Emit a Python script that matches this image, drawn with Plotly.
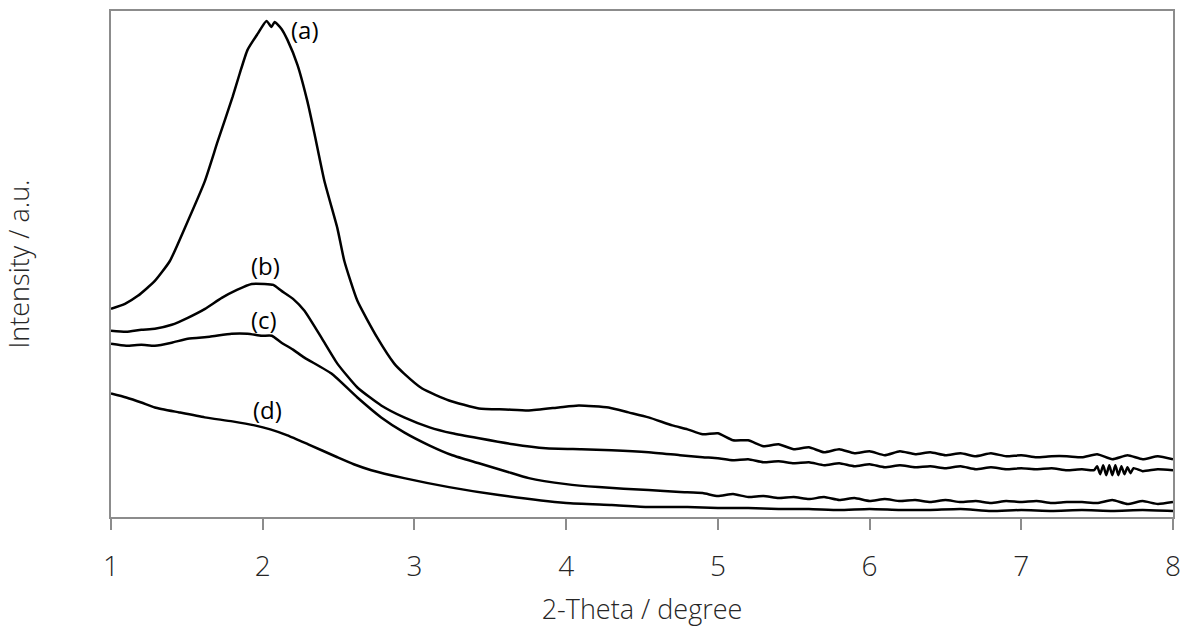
import plotly.graph_objects as go

# ---- data (2-Theta in degree, intensity in a.u.) ----
x_a = [1.000, 1.092, 1.177, 1.289, 1.388, 1.486, 1.618, 1.703, 1.802, 1.848, 1.900, 1.966,
       2.025, 2.058, 2.078, 2.124, 2.163, 2.229, 2.295, 2.341, 2.407, 2.492, 2.538, 2.624,
       2.755, 2.867, 2.932, 3.051, 3.228, 3.425, 3.600, 3.754, 3.951, 4.083, 4.280, 4.411,
       4.543, 4.700,
       4.8, 4.9, 5.0, 5.1, 5.2, 5.3, 5.4, 5.5, 5.6, 5.7, 5.8, 5.9, 6.0, 6.1, 6.2, 6.3, 6.4,
       6.5, 6.6, 6.7, 6.8, 6.9, 7.0, 7.1, 7.2, 7.3, 7.4, 7.5, 7.6, 7.7, 7.8, 7.9, 8.0]
y_a = [209, 214, 222, 237, 257, 290, 337, 377, 422, 445, 469, 485,
       498, 492, 497, 490, 479, 454, 417, 385, 337, 290, 257, 217,
       180, 154, 144, 129, 117, 109, 108, 107, 110, 112, 110, 105,
       100, 92,
       88, 83, 84, 77, 77, 71, 73, 68, 70, 65, 68, 64, 66, 62, 66, 63, 65,
       62, 64, 61, 64, 61, 62, 60, 61, 61, 60, 63, 58, 62, 58, 61, 58]

x_b = [1.000, 1.100, 1.200, 1.289, 1.400, 1.506, 1.620, 1.730, 1.830, 1.927, 2.012, 2.070,
       2.124, 2.200, 2.275, 2.387, 2.492, 2.624, 2.781, 2.932, 3.100, 3.250, 3.425, 3.650,
       3.866, 4.100, 4.300, 4.543, 4.750,
       4.9, 5.0, 5.1, 5.2, 5.3, 5.4, 5.5, 5.6, 5.7, 5.8, 5.9, 6.0, 6.1, 6.2, 6.3, 6.4,
       6.5, 6.6, 6.7, 6.8, 6.9, 7.0, 7.1, 7.2, 7.3, 7.4, 7.48,
       7.50, 7.52, 7.54, 7.56, 7.58, 7.60, 7.62, 7.64, 7.66, 7.68, 7.70, 7.72, 7.74,
       7.8, 7.9, 8.0]
y_b = [187, 186, 188, 189, 193, 200, 209, 220, 228, 234, 234, 233,
       227, 219, 207, 180, 154, 130, 112, 100, 90, 84, 79, 73,
       69, 68, 67, 65, 62,
       60, 59, 57, 58, 55, 56, 54, 55, 52, 54, 51, 53, 50, 52, 50, 51,
       49, 51, 48, 50, 48, 49, 48, 49, 47, 48, 47,
       51, 43, 52, 42, 52, 42, 52, 42, 51, 43, 50, 44, 49,
       46, 48, 47]

x_c = [1.000, 1.100, 1.200, 1.289, 1.400, 1.506, 1.650, 1.795, 1.900, 1.993, 2.060, 2.124,
       2.200, 2.275, 2.453, 2.624, 2.781, 2.932, 3.097, 3.250, 3.425, 3.600, 3.754, 4.000,
       4.214, 4.543, 4.750,
       4.9, 5.0, 5.1, 5.2, 5.3, 5.4, 5.5, 5.6, 5.7, 5.8, 5.9, 6.0, 6.1, 6.2, 6.3, 6.4,
       6.5, 6.6, 6.7, 6.8, 6.9, 7.0, 7.1, 7.2, 7.3, 7.4, 7.5, 7.6, 7.7, 7.8, 7.9, 8.0]
y_c = [174, 172, 173, 172, 175, 179, 181, 184, 184, 182, 182, 175,
       168, 160, 144, 120, 100, 85, 72, 62, 54, 46, 39, 33,
       30, 27, 25,
       24, 21, 23, 20, 21, 19, 20, 18, 20, 17, 19, 16, 18, 16, 17, 15,
       17, 15, 16, 14, 16, 15, 16, 14, 15, 15, 14, 17, 13, 16, 13, 15]

x_d = [1.000, 1.100, 1.200, 1.289, 1.450, 1.618, 1.800, 1.947, 2.050, 2.163, 2.300, 2.492,
       2.600, 2.716, 2.932, 3.228, 3.557, 4.000, 4.300, 4.543,
       4.8, 5.0, 5.2, 5.4, 5.6, 5.8, 6.0, 6.2, 6.4, 6.6, 6.8, 7.0, 7.2, 7.4, 7.6, 7.8, 8.0]
y_d = [124, 120, 115, 110, 105, 100, 96, 92, 88, 82, 73, 60,
       53, 47, 39, 30, 22, 14, 12, 10,
       10, 9, 9, 8, 8, 7, 8, 7, 7, 8, 6, 7, 6, 7, 6, 7, 6]

series = [("(a)", x_a, y_a), ("(b)", x_b, y_b), ("(c)", x_c, y_c), ("(d)", x_d, y_d)]

# label positions (x in degree, y in a.u.)
label_text = ["(a)", "(b)", "(c)", "(d)"]
label_x = [2.28, 2.02, 2.01, 2.03]
label_y = [489, 253, 198, 108]

x_ticks = [1, 2, 3, 4, 5, 6, 7, 8]

fig = go.Figure()
for name, xs, ys in series:
    fig.add_trace(go.Scatter(x=xs, y=ys, mode="lines", name=name,
                             line=dict(color="black", width=2.5, shape="spline", smoothing=0.5),
                             showlegend=False))

for t, lx, ly in zip(label_text, label_x, label_y):
    fig.add_annotation(x=lx, y=ly, text=t, showarrow=False,
                       font=dict(family="Open Sans", size=24, color="black"))

axis_col = "#8c8c8c"
fig.update_layout(
    width=1190, height=629,
    margin=dict(l=111, r=14, t=9, b=112),
    paper_bgcolor="white", plot_bgcolor="white",
    font=dict(family="Open Sans", color="#262626"),
    xaxis=dict(range=[1, 8], tickvals=x_ticks, ticks="outside", ticklen=11, tickwidth=2,
               tickcolor=axis_col, showline=True, linecolor=axis_col, linewidth=2,
               mirror=True, showgrid=False, zeroline=False,
               tickfont=dict(size=28, family="Open Sans", weight=300, color="#262626"),
               ticklabelstandoff=12,
               title=dict(text="2-Theta / degree", standoff=18,
                          font=dict(size=27, family="Open Sans", weight=300, color="#262626"))),
    yaxis=dict(range=[0, 508], showticklabels=False, ticks="", showline=True,
               linecolor=axis_col, linewidth=2, mirror=True, showgrid=False, zeroline=False,
               title=dict(text="Intensity / a.u.", standoff=72,
                          font=dict(size=27, family="Open Sans", weight=300, color="#262626"))),
)

fig.write_html("out.html")
